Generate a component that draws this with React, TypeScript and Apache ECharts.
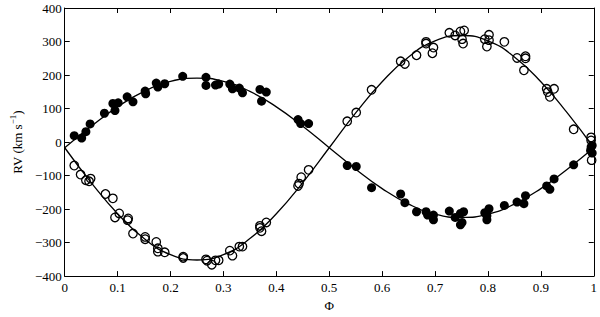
import React, { useEffect, useRef } from "react";
import * as echarts from "echarts";

// Primary (filled) measurements
const filledPhase = [0.018, 0.032, 0.040, 0.048, 0.075, 0.091, 0.095, 0.101, 0.118, 0.129, 0.152, 0.153, 0.173, 0.176, 0.189, 0.223, 0.267, 0.267, 0.285, 0.291, 0.312, 0.317, 0.330, 0.336, 0.369, 0.372, 0.381, 0.441, 0.446, 0.461, 0.534, 0.551, 0.580, 0.635, 0.643, 0.665, 0.683, 0.686, 0.697, 0.697, 0.727, 0.738, 0.748, 0.748, 0.751, 0.754, 0.794, 0.798, 0.798, 0.802, 0.831, 0.855, 0.868, 0.871, 0.911, 0.917, 0.925, 0.962, 0.994, 0.995, 0.997, 0.997];
const filledRV = [19, 12, 31, 54, 86, 115, 94, 117, 135, 120, 152, 144, 176, 164, 174, 196, 193, 169, 170, 173, 173, 159, 161, 147, 157, 122, 149, 67, 55, 55, -70, -73, -136, -155, -181, -208, -208, -218, -218, -232, -206, -225, -213, -247, -240, -208, -211, -220, -232, -199, -189, -179, -184, -160, -131, -141, -110, -68, -25, -15, -10, -33];

// Secondary (open) measurements
const openPhase = [0.018, 0.030, 0.040, 0.049, 0.046, 0.077, 0.091, 0.095, 0.103, 0.120, 0.119, 0.129, 0.152, 0.152, 0.173, 0.176, 0.176, 0.189, 0.224, 0.224, 0.267, 0.269, 0.278, 0.285, 0.291, 0.312, 0.317, 0.330, 0.336, 0.369, 0.369, 0.372, 0.381, 0.441, 0.443, 0.447, 0.461, 0.534, 0.551, 0.580, 0.635, 0.643, 0.665, 0.683, 0.683, 0.695, 0.697, 0.727, 0.738, 0.748, 0.755, 0.751, 0.753, 0.794, 0.798, 0.802, 0.802, 0.831, 0.855, 0.868, 0.871, 0.871, 0.911, 0.913, 0.917, 0.925, 0.962, 0.995, 0.995, 0.996];
const openRV = [-70, -97, -114, -109, -117, -155, -168, -225, -213, -228, -233, -273, -283, -290, -298, -317, -327, -329, -342, -346, -350, -354, -366, -353, -353, -324, -339, -312, -312, -250, -256, -266, -240, -131, -124, -105, -83, 62, 88, 156, 241, 233, 259, 299, 294, 265, 282, 326, 318, 330, 333, 307, 294, 307, 285, 320, 304, 299, 251, 214, 256, 250, 159, 149, 135, 159, 38, 14, 5, -54];

// Fitted orbit curves read at phase steps of 0.05
const curvePhase = [0, 0.05, 0.1, 0.15, 0.2, 0.25, 0.3, 0.35, 0.4, 0.45, 0.5, 0.55, 0.6, 0.65, 0.7, 0.75, 0.8, 0.85, 0.9, 0.95, 1];
const curveFilled = [-17, 47, 105, 151, 181, 191, 181, 151, 105, 47, -17, -81, -139, -185, -215, -225, -215, -185, -139, -81, -17];
const curveOpen = [-17, -121, -214, -288, -336, -352, -336, -288, -214, -121, -17, 87, 180, 254, 302, 318, 302, 254, 180, 87, -17];

const zip = (a: number[], b: number[]) => a.map((v, i) => [v, b[i]]);

const FONT = "Liberation Serif";

export default function App() {
  const ref = useRef<HTMLDivElement>(null);
  useEffect(() => {
    if (!ref.current) return;
    const chart = echarts.init(ref.current, undefined, { renderer: "svg" });
    const xCommon = {
      type: "value" as const,
      min: 0,
      max: 1,
      interval: 0.1,
      splitLine: { show: false },
      axisLine: { show: true, onZero: false, lineStyle: { color: "#000", width: 1 } },
      axisTick: { show: true, inside: true, length: 5, lineStyle: { color: "#000" } },
    };
    const yCommon = {
      type: "value" as const,
      min: -400,
      max: 400,
      interval: 100,
      splitLine: { show: false },
      axisLine: { show: true, onZero: false, lineStyle: { color: "#000", width: 1 } },
      axisTick: { show: true, inside: true, length: 5, lineStyle: { color: "#000" } },
    };
    chart.setOption({
      animation: false,
      backgroundColor: "#fff",
      grid: { left: 53.5, right: 5, top: 8, bottom: 32.5 },
      xAxis: [
        {
          ...xCommon,
          position: "bottom",
          name: "Φ",
          nameLocation: "middle",
          nameGap: 16,
          nameTextStyle: { color: "#000", fontFamily: FONT, fontSize: 13 },
          axisLabel: {
            color: "#000",
            fontFamily: FONT,
            fontSize: 13,
            margin: 5,
            formatter: (v: number) => String(+v.toFixed(1)),
          },
        },
        { ...xCommon, position: "top", axisLabel: { show: false } },
      ],
      yAxis: [
        {
          ...yCommon,
          position: "left",
          name: "{a|RV (km s}{sup|−1}{a|)}",
          nameLocation: "middle",
          nameGap: 35,
          nameTextStyle: {
            color: "#000",
            fontFamily: FONT,
            fontSize: 13,
            rich: {
              a: { fontFamily: FONT, fontSize: 13, color: "#000", lineHeight: 16, verticalAlign: "bottom" },
              sup: { fontFamily: FONT, fontSize: 9, color: "#000", lineHeight: 16, verticalAlign: "top" },
            },
          },
          axisLabel: {
            color: "#000",
            fontFamily: FONT,
            fontSize: 13,
            margin: 3,
            formatter: (v: number) => (v < 0 ? "\u2212" + Math.abs(v) : String(v)),
          },
        },
        { ...yCommon, position: "right", axisLabel: { show: false } },
      ],
      series: [
        {
          type: "line",
          data: zip(curvePhase, curveFilled),
          smooth: 0.5,
          showSymbol: false,
          lineStyle: { color: "#000", width: 1.3 },
          z: 1,
        },
        {
          type: "line",
          data: zip(curvePhase, curveOpen),
          smooth: 0.5,
          showSymbol: false,
          lineStyle: { color: "#000", width: 1.3 },
          z: 1,
        },
        {
          type: "scatter",
          data: zip(filledPhase, filledRV),
          symbol: "circle",
          symbolSize: 9,
          itemStyle: { color: "#000", opacity: 1 },
          z: 3,
        },
        {
          type: "scatter",
          data: zip(openPhase, openRV),
          symbol: "circle",
          symbolSize: 8.5,
          itemStyle: { color: "rgba(255,255,255,0)", borderColor: "#000", borderWidth: 1.3, opacity: 1 },
          z: 3,
        },
      ],
    });
    return () => chart.dispose();
  }, []);
  return (
    <div
      ref={ref}
      style={{ position: "fixed", left: 0, top: 0, width: 600, height: 317 }}
    />
  );
}
